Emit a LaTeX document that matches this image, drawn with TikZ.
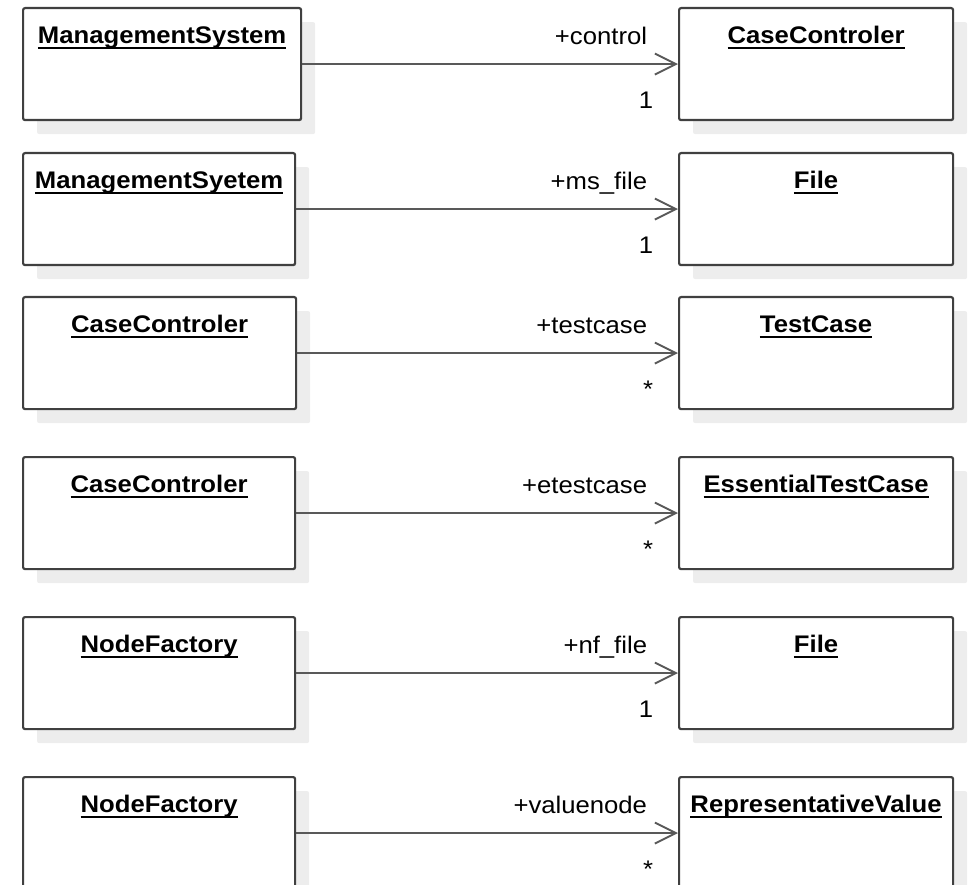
\documentclass[tikz,border=0pt]{standalone}
\usepackage{fontspec}
\setmainfont{Liberation Sans}[FakeStretch=1.07]
\usetikzlibrary{arrows.meta,shadows}

% class name: bold, underlined
\newcommand{\clsname}[1]{\setbox0=\hbox{\bfseries #1}\rlap{\rule[-5.5pt]{\wd0}{2pt}}\box0}

\begin{document}
\begin{tikzpicture}[x=1pt, y=-1pt, font=\fontsize{24}{28}\selectfont,
    cls/.style = {draw=black!75, line width=2.2pt, rounded corners=2pt, fill=white, inner sep=0pt, anchor=north west, minimum width=274pt, text height=35pt, text depth=77pt, drop shadow={shadow xshift=14pt, shadow yshift=-14pt, fill=black!7, opacity=1}},
    assoc/.style = {draw=black!65, line width=1.9pt, -{Straight Barb[length=21pt, width=21pt]}},
    role/.style = {anchor=base east, xshift=-30pt, yshift=20pt, inner sep=0pt},
    mult/.style = {anchor=base east, xshift=-24pt, yshift=-44pt, inner sep=0pt}]
    \clip (0,0) rectangle (969,885);

    % row 1
    \node[cls, minimum width=278pt] (ms1) at (22,7) {\clsname{ManagementSystem}};
    \node[cls] (cc1) at (678,7) {\clsname{CaseControler}};
    \draw[assoc] (ms1) -- node[role, pos=1] {+control} node[mult, pos=1] {1} (cc1);

    % row 2
    \node[cls, minimum width=272pt] (ms2) at (22,152) {\clsname{ManagementSyetem}};
    \node[cls] (f2) at (678,152) {\clsname{File}};
    \draw[assoc] (ms2) -- node[role, pos=1] {+ms\_file} node[mult, pos=1] {1} (f2);

    % row 3
    \node[cls, minimum width=273pt] (cc3) at (22,296) {\clsname{CaseControler}};
    \node[cls] (tc3) at (678,296) {\clsname{TestCase}};
    \draw[assoc] (cc3) -- node[role, pos=1] {+testcase} node[mult, pos=1] {*} (tc3);

    % row 4
    \node[cls, minimum width=272pt] (cc4) at (22,456) {\clsname{CaseControler}};
    \node[cls] (etc4) at (678,456) {\clsname{EssentialTestCase}};
    \draw[assoc] (cc4) -- node[role, pos=1] {+etestcase} node[mult, pos=1] {*} (etc4);

    % row 5
    \node[cls, minimum width=272pt] (nf5) at (22,616) {\clsname{NodeFactory}};
    \node[cls] (f5) at (678,616) {\clsname{File}};
    \draw[assoc] (nf5) -- node[role, pos=1] {+nf\_file} node[mult, pos=1] {1} (f5);

    % row 6
    \node[cls, minimum width=272pt] (nf6) at (22,776) {\clsname{NodeFactory}};
    \node[cls] (rv6) at (678,776) {\clsname{RepresentativeValue}};
    \draw[assoc] (nf6) -- node[role, pos=1] {+valuenode} node[mult, pos=1] {*} (rv6);
\end{tikzpicture}
\end{document}
